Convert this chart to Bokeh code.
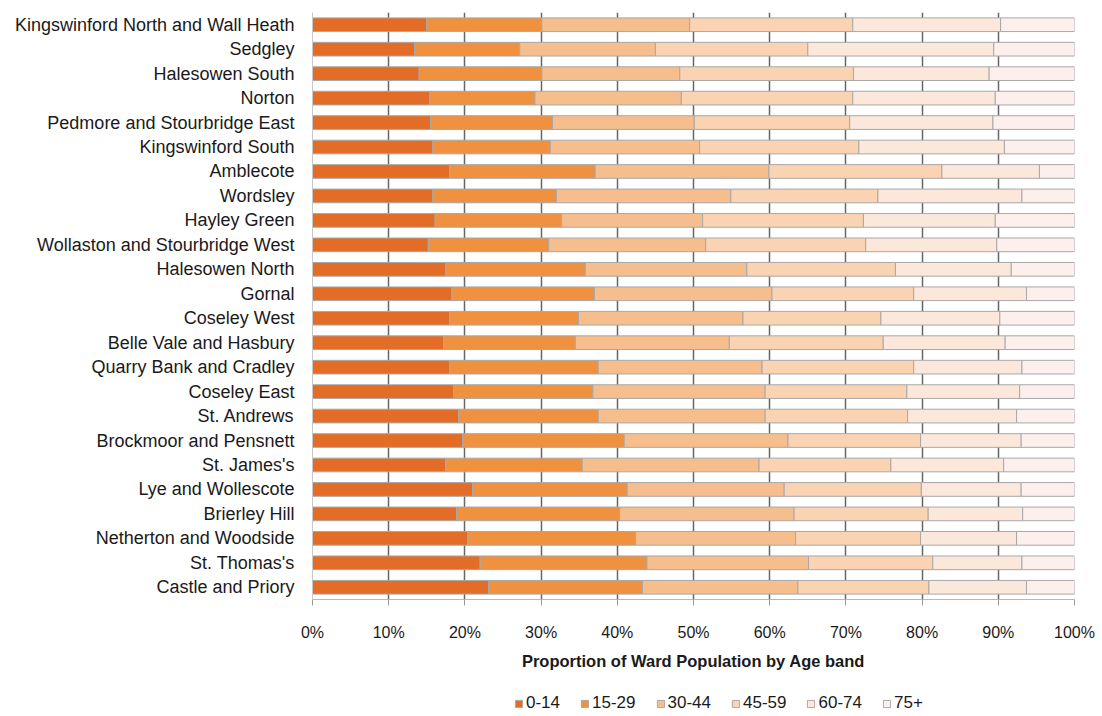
from bokeh.plotting import figure
from bokeh.layouts import column
from bokeh.models import ColumnDataSource, FactorRange, Legend, LegendItem, PrintfTickFormatter, FixedTicker
from bokeh.embed import file_html
from bokeh.resources import INLINE

# Wards, listed top to bottom
wards = [
    "Kingswinford North and Wall Heath", "Sedgley", "Halesowen South", "Norton",
    "Pedmore and Stourbridge East", "Kingswinford South", "Amblecote", "Wordsley",
    "Hayley Green", "Wollaston and Stourbridge West", "Halesowen North", "Gornal",
    "Coseley West", "Belle Vale and Hasbury", "Quarry Bank and Cradley", "Coseley East",
    "St. Andrews", "Brockmoor and Pensnett", "St. James's", "Lye and Wollescote",
    "Brierley Hill", "Netherton and Woodside", "St. Thomas's", "Castle and Priory",
]

bands = ["0-14", "15-29", "30-44", "45-59", "60-74", "75+"]

# Share of each ward's population (%) in each age band
age_0_14 = [15.0, 13.4, 14.0, 15.4, 15.5, 15.8, 18.0, 15.8, 16.1, 15.2, 17.5, 18.3,
            18.0, 17.2, 18.0, 18.5, 19.2, 19.7, 17.5, 21.0, 18.9, 20.4, 22.0, 23.1]
age_15_29 = [15.1, 13.8, 16.1, 13.8, 16.0, 15.4, 19.1, 16.2, 16.6, 15.8, 18.3, 18.7,
             16.9, 17.3, 19.5, 18.3, 18.3, 21.2, 17.9, 20.3, 21.4, 22.0, 21.9, 20.2]
age_30_44 = [19.4, 17.8, 18.1, 19.2, 18.6, 19.6, 22.8, 22.9, 18.5, 20.6, 21.2, 23.3,
             21.6, 20.2, 21.5, 22.6, 21.9, 21.5, 23.2, 20.6, 22.9, 21.0, 21.2, 20.4]
age_45_59 = [21.4, 20.0, 22.8, 22.5, 20.4, 20.9, 22.7, 19.3, 21.1, 21.0, 19.5, 18.6,
             18.1, 20.2, 19.9, 18.6, 18.7, 17.4, 17.3, 18.0, 17.6, 16.4, 16.3, 17.2]
age_60_74 = [19.4, 24.4, 17.8, 18.7, 18.8, 19.1, 12.8, 18.9, 17.3, 17.2, 15.2, 14.8,
             15.6, 16.0, 14.2, 14.8, 14.3, 13.2, 14.8, 13.1, 12.4, 12.6, 11.7, 12.8]
age_75_plus = [9.7, 10.6, 11.2, 10.4, 10.7, 9.2, 4.6, 6.9, 10.4, 10.2, 8.3, 6.3,
               9.8, 9.1, 6.9, 7.2, 7.6, 7.0, 9.3, 7.0, 6.8, 7.6, 6.9, 6.3]

ticks = [0, 10, 20, 30, 40, 50, 60, 70, 80, 90, 100]

colors = ["#E36C26", "#F0913F", "#F6BE8C", "#FAD4B2", "#FCE8DA", "#FDEFEC"]
OUTLINE = "#a8a8a8"
FONT = "Liberation Sans"

source = ColumnDataSource(dict(
    ward=wards,
    **{"0-14": age_0_14, "15-29": age_15_29, "30-44": age_30_44,
       "45-59": age_45_59, "60-74": age_60_74, "75+": age_75_plus},
))

# Main stacked-bar chart
p = figure(
    y_range=FactorRange(*reversed(wards)),
    x_range=(0, 100),
    width=1102, height=672,
    min_border_left=312, min_border_right=28, min_border_top=12, min_border_bottom=0,
    output_backend="svg", toolbar_location=None,
    background_fill_color="white", border_fill_color="white",
)
p.outline_line_color = None

p.hbar_stack(
    bands, y="ward", height=0.56, color=colors, source=source,
    line_color=OUTLINE, line_width=1,
)

p.xaxis.ticker = FixedTicker(ticks=ticks)
p.xaxis.formatter = PrintfTickFormatter(format="%d%%")
p.xaxis.axis_label = "Proportion of Ward Population by Age band"
p.xaxis.axis_label_text_font = FONT
p.xaxis.axis_label_text_font_style = "bold"
p.xaxis.axis_label_text_font_size = "16.5px"
p.xaxis.axis_label_text_color = "#1a1a1a"
p.xaxis.axis_label_standoff = 8
p.xaxis.major_label_text_font = FONT
p.xaxis.major_label_text_font_size = "16px"
p.xaxis.major_label_text_color = "#1a1a1a"
p.xaxis.major_label_standoff = 18
p.xaxis.axis_line_color = "#b8b8b8"
p.xaxis.major_tick_line_color = "#9a9a9a"
p.xaxis.major_tick_out = 6
p.xaxis.major_tick_in = 0
p.xaxis.minor_tick_line_color = None

p.yaxis.major_label_text_font = FONT
p.yaxis.major_label_text_font_size = "18px"
p.yaxis.major_label_text_color = "#1a1a1a"
p.yaxis.axis_line_color = "#c8c8c8"
p.yaxis.major_tick_line_color = None
p.yaxis.major_label_standoff = 12

p.ygrid.grid_line_color = None
p.xgrid.grid_line_color = "#666666"
p.xgrid.grid_line_width = 1.5

# Legend strip underneath; its frame lines up with the chart frame above.
# Each swatch renderer holds one bar parked well outside the strip's visible ranges.
key = figure(
    width=1102, height=44, x_range=(0, 1), y_range=(0, 1),
    min_border=0, output_backend="svg", toolbar_location=None,
    background_fill_color="white", border_fill_color="white",
)
key.outline_line_color = None
key.axis.visible = False
key.grid.visible = False

swatches = [
    key.hbar(y=[-10], left=[5], right=[6], height=0.5, fill_color=c, line_color=OUTLINE)
    for c in colors
]
legend = Legend(
    items=[LegendItem(label=b, renderers=[r]) for b, r in zip(bands, swatches)],
    orientation="horizontal", location=(202, 3),
    label_text_font=FONT, label_text_font_size="17px", label_text_color="#1a1a1a",
    glyph_width=9, glyph_height=9, label_standoff=3, spacing=20,
    padding=0, margin=0, border_line_color=None, background_fill_alpha=0,
)
key.add_layout(legend, "center")

open("out.html", "w").write(file_html(column(p, key, spacing=0), INLINE))
